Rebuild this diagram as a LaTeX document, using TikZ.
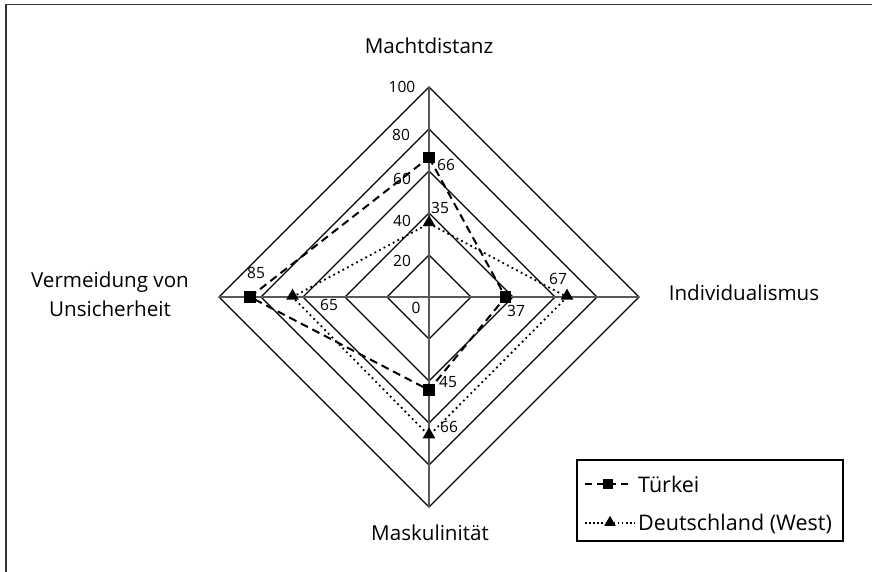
\documentclass[tikz,border=0pt]{standalone}
\usepackage{fontspec}
\setmainfont{Open Sans}
\usetikzlibrary{shapes.geometric}
\begin{document}
\begin{tikzpicture}[x=1pt,y=-1pt,
  ring/.style={draw=black,line width=1.2pt},
  axisline/.style={draw=black!65,line width=1.8pt},
  tline/.style={draw=black,line width=2pt,dash pattern=on 8pt off 5pt},
  dline/.style={draw=black,line width=1.8pt,dash pattern=on 1.8pt off 3.4pt},
  sqmark/.style={fill=black,rectangle,minimum size=11.5pt,inner sep=0pt},
  trimark/.style={fill=black,isosceles triangle,isosceles triangle apex angle=60,shape border rotate=90,minimum height=11pt,inner sep=0pt},
  biglabel/.style={font=\fontsize{20.6}{29}\selectfont,inner sep=0pt,align=center},
  numlabel/.style={font=\fontsize{15.5}{18}\selectfont,inner sep=0pt},
  legtext/.style={font=\fontsize{21.5}{24}\selectfont,inner sep=0pt,anchor=base west}]
\useasboundingbox (0,0) rectangle (872,572);
% outer frame
\draw[draw=black!80,line width=1.5pt] (6,572) -- (6,4.5) -- (872,4.5);

% centre and axis ends
\coordinate (c) at (429,297);
\coordinate (top) at (429,87);
\coordinate (right) at (639,297);
\coordinate (bottom) at (429,507);
\coordinate (left) at (219,297);

% grid diamonds for 20, 40, ..., 100
\foreach \r in {20,40,60,80,100}{
  \pgfmathsetmacro{\d}{2.1*\r}
  \draw[ring] (429,297-\d) -- (429+\d,297) -- (429,297+\d) -- (429-\d,297) -- cycle;
}
% axes
\draw[axisline] (top) -- (bottom);
\draw[axisline] (left) -- (right);

% data points
\coordinate (t1) at (429,157.5);
\coordinate (t2) at (505.5,297);
\coordinate (t3) at (429,390);
\coordinate (t4) at (250,297);
\coordinate (d1) at (429,223.5);
\coordinate (d2) at (567,297);
\coordinate (d3) at (429,435.6);
\coordinate (d4) at (292.5,297);

\draw[dline] (d1) -- (d2) -- (d3) -- (d4) -- cycle;
\draw[tline] (t1) -- (t2) -- (t3) -- (t4) -- cycle;

\foreach \p in {t1,t2,t3,t4} \node[sqmark] at (\p) {};
\foreach \p in {d1,d2,d3,d4} \node[trimark] at ([yshift=1pt]\p) {};

% scale labels
\node[numlabel] (s100) at (402,87) {100};
\node[numlabel] (s80) at (401,135) {80};
\node[numlabel] (s60) at (402,179) {60};
\node[numlabel] (s40) at (402,221) {40};
\node[numlabel] (s20) at (402,261) {20};
\node[numlabel] (s0) at (416,308) {0};

% value labels
\node[numlabel] (vt1) at (446,165) {66};
\node[numlabel] (vd1) at (440,208) {35};
\node[numlabel] (vt4) at (256,273) {85};
\node[numlabel] (vd4) at (329,305) {65};
\node[numlabel] (vd2) at (558,279) {67};
\node[numlabel] (vt2) at (516,311) {37};
\node[numlabel] (vt3) at (448,382) {45};
\node[numlabel] (vd3) at (449,427) {66};

% axis titles
\node[biglabel,anchor=base] (pdi) at (429,54) {Machtdistanz};
\node[biglabel,anchor=base] (idv) at (744,300) {Individualismus};
\node[biglabel,anchor=base] (mas) at (430,540) {Maskulinität};
\node[biglabel,anchor=base] (uai1) at (110,287) {Vermeidung von};
\node[biglabel,anchor=base] (uai2) at (110,316) {Unsicherheit};

% legend
\node[draw=black,line width=1.2pt,rectangle,minimum width=266pt,minimum height=81pt,inner sep=0pt] (legend) at (710,500.5) {};
\coordinate (l1a) at (585,484);
\coordinate (l1b) at (631,484);
\coordinate (l1m) at (608,484);
\coordinate (l2a) at (585,523);
\coordinate (l2b) at (635,523);
\coordinate (l2m) at (610,523);
\draw[tline,dash pattern=on 7pt off 5pt] (l1a) -- (l1b);
\node[sqmark,minimum size=9.5pt] at (l1m) {};
\draw[dline,line width=1.5pt,dash pattern=on 1.5pt off 2.6pt] (l2a) -- (l2b);
\node[trimark,minimum height=10pt] at ([yshift=0.5pt]l2m) {};
\node[legtext] (leg1) at (638,492) {Türkei};
\node[legtext] (leg2) at (638,530) {Deutschland (West)};
\end{tikzpicture}
\end{document}
